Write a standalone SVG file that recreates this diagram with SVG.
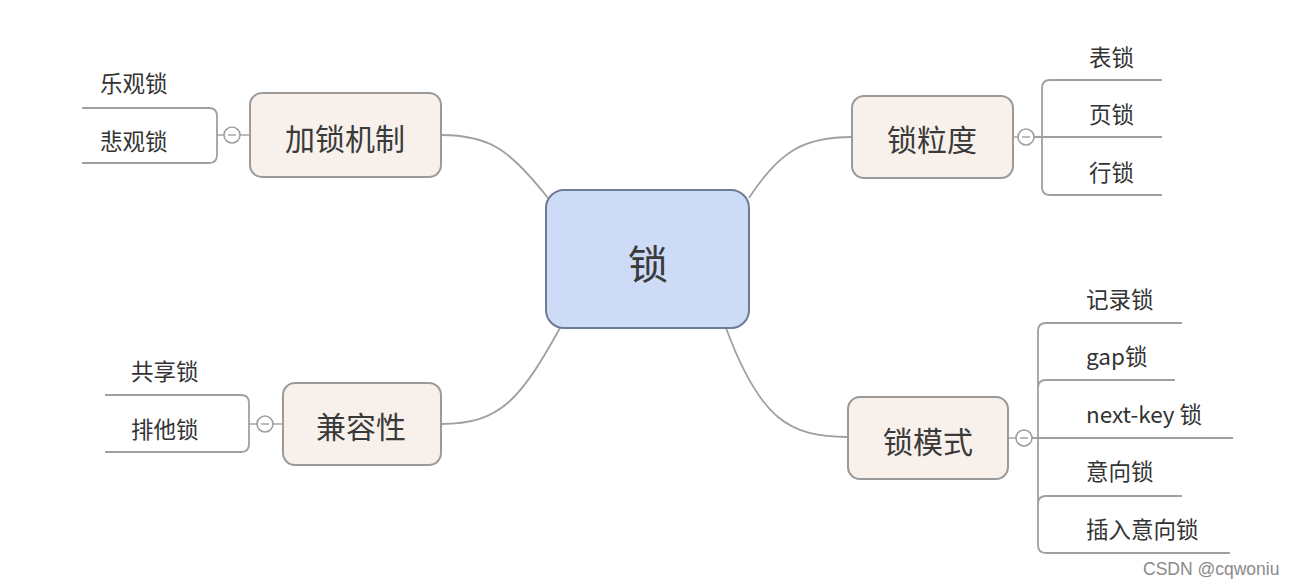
<svg xmlns="http://www.w3.org/2000/svg" width="1300" height="588" viewBox="0 0 1300 588">
<style>
.bg{fill:#ffffff}
.topic{fill:#f7f0eb;stroke:#9a9a9a;stroke-width:2}
.center{fill:#cddbf6;stroke:#6e7b96;stroke-width:2}
.conn{fill:none;stroke:#a0a0a0;stroke-width:1.8}
.leaf{fill:none;stroke:#a0a0a0;stroke-width:1.8}
.col{fill:#ffffff;stroke:#a0a0a0;stroke-width:1.6}
.dash{stroke:#a0a0a0;stroke-width:1.4}
.t{font-family:"Noto Sans CJK SC","Noto Sans",sans-serif;fill:#3a3a3a;text-anchor:middle;dominant-baseline:central}
.tl{font-family:"Noto Sans CJK SC","Noto Sans",sans-serif;fill:#333333;font-size:22.5px;dominant-baseline:central}
.wm{font-family:"Liberation Sans",Arial,sans-serif;fill:#8a8a8a;font-size:17.5px}
</style>
<rect class="bg" x="0" y="0" width="1300" height="588"/>
<g id="connectors">
<path class="conn" d="M441,135 C490,135 510,150 548,198"/>
<path class="conn" d="M852,137 C805,137 780,150 749,198"/>
<path class="conn" d="M441,424 C500,424 520,400 560,328"/>
<path class="conn" d="M848,437 C790,437 760,420 726,328"/>
</g>
<g id="center">
<rect class="center" x="546" y="190" width="203" height="138" rx="18"/>
<text class="t" x="648" y="262" font-size="40">锁</text>
</g>
<g id="lock-mechanism">
<rect class="topic" x="250" y="93" width="191" height="84" rx="12"/>
<text class="t" x="345" y="137" font-size="30">加锁机制</text>
<path class="leaf" d="M82,108 H209 Q217,108 217,116 V155 Q217,163 209,163 H82"/>
<line class="dash" x1="217" y1="135" x2="224" y2="135"/>
<circle class="col" cx="232" cy="135" r="8"/>
<line class="dash" x1="228" y1="135" x2="236" y2="135"/>
<line class="dash" x1="240" y1="135" x2="250" y2="135"/>
<text class="tl" x="100" y="82">乐观锁</text>
<text class="tl" x="100" y="140">悲观锁</text>
</g>
<g id="granularity">
<rect class="topic" x="852" y="96" width="161" height="82" rx="12"/>
<text class="t" x="932" y="138" font-size="30">锁粒度</text>
<line class="dash" x1="1013" y1="137" x2="1018" y2="137"/>
<circle class="col" cx="1026" cy="137" r="8"/>
<line class="dash" x1="1022" y1="137" x2="1030" y2="137"/>
<path class="leaf" d="M1034,137 H1162 M1162,80 H1050 Q1042,80 1042,88 V187 Q1042,195 1050,195 H1162"/>
<text class="tl" x="1089" y="56">表锁</text>
<text class="tl" x="1089" y="113">页锁</text>
<text class="tl" x="1089" y="171">行锁</text>
</g>
<g id="compatibility">
<rect class="topic" x="283" y="383" width="158" height="82" rx="12"/>
<text class="t" x="361" y="425" font-size="30">兼容性</text>
<path class="leaf" d="M105,395 H241 Q249,395 249,403 V444 Q249,452 241,452 H105"/>
<line class="dash" x1="249" y1="424" x2="257" y2="424"/>
<circle class="col" cx="265" cy="424" r="8"/>
<line class="dash" x1="261" y1="424" x2="269" y2="424"/>
<line class="dash" x1="273" y1="424" x2="283" y2="424"/>
<text class="tl" x="131" y="370">共享锁</text>
<text class="tl" x="131" y="428">排他锁</text>
</g>
<g id="lock-mode">
<rect class="topic" x="848" y="397" width="160" height="82" rx="12"/>
<text class="t" x="928" y="440" font-size="30">锁模式</text>
<line class="dash" x1="1008" y1="438" x2="1016" y2="438"/>
<circle class="col" cx="1024" cy="438" r="8"/>
<line class="dash" x1="1020" y1="438" x2="1028" y2="438"/>
<path class="leaf" d="M1032,438 H1233 M1182,323 H1046 Q1038,323 1038,331 V545 Q1038,553 1046,553 H1230 M1038,388 Q1038,380 1046,380 H1175 M1038,504 Q1038,496 1046,496 H1182"/>
<text class="tl" x="1086" y="298">记录锁</text>
<text class="tl" x="1086" y="355">gap锁</text>
<text class="tl" x="1086" y="413">next-key 锁</text>
<text class="tl" x="1086" y="470">意向锁</text>
<text class="tl" x="1086" y="528">插入意向锁</text>
</g>
<text class="wm" x="1143" y="575">CSDN @cqwoniu</text>
</svg>
